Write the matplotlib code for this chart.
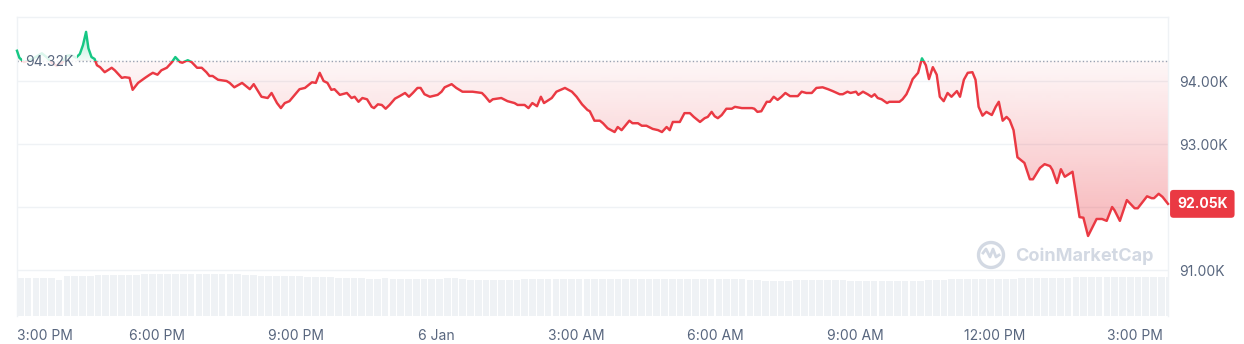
import numpy as np
import matplotlib
matplotlib.use("Agg")
import matplotlib.pyplot as plt
from matplotlib.path import Path
from matplotlib.patches import Rectangle, Circle
from matplotlib.lines import Line2D
from matplotlib.transforms import IdentityTransform
from matplotlib.colors import to_rgb

plt.rcParams['font.family'] = ['Inter', 'DejaVu Sans']

# minutes after 3:00 PM (5 Jan) and BTC price in USD
minutes = [0, 3, 9, 16, 24, 32, 38, 45, 51, 58, 64, 70, 76, 81, 85, 89, 92, 96, 100, 103,
           107, 113, 122, 126, 135, 139, 145, 149, 156, 165, 171, 175, 181, 186, 193, 199, 204, 210, 213, 220,
           225, 232, 238, 244, 248, 252, 259, 270, 274, 280, 290, 300, 305, 315, 323, 328, 335, 340, 345, 351,
           364, 371, 380, 385, 390, 395, 400, 405, 409, 416, 425, 431, 435, 440, 445, 451, 457, 460, 465, 470,
           475, 480, 487, 493, 500, 505, 510, 516, 520, 525, 532, 542, 547, 551, 560, 566, 574, 587, 599, 603,
           609, 613, 624, 632, 641, 645, 654, 659, 664, 670, 675, 679, 689, 695, 706, 715, 721, 728, 735, 738,
           744, 751, 755, 761, 770, 774, 779, 789, 793, 800, 805, 811, 819, 826, 831, 837, 841, 845, 854, 860,
           867, 872, 880, 886, 890, 895, 899, 903, 908, 914, 921, 925, 934, 947, 950, 954, 959, 966, 970, 975,
           980, 985, 990, 996, 1006, 1011, 1017, 1024, 1030, 1038, 1045, 1051, 1060, 1064, 1070, 1074, 1081, 1084, 1090, 1096,
           1101, 1105, 1109, 1114, 1121, 1124, 1131, 1137, 1141, 1146, 1150, 1154, 1161, 1166, 1171, 1175, 1180, 1185, 1189, 1194,
           1199, 1204, 1211, 1215, 1220, 1225, 1231, 1235, 1239, 1244, 1249, 1256, 1261, 1265, 1270, 1275, 1279, 1284, 1289, 1298,
           1305, 1309, 1318, 1324, 1331, 1334, 1340, 1345, 1350, 1360, 1369, 1374, 1380, 1391, 1398, 1404, 1411, 1414, 1421, 1430,
           1440, 1444, 1456, 1462, 1465, 1471, 1476, 1483]
price = [94480, 94370, 94300, 94330, 94380, 94440, 94380, 94290, 94240, 94290, 94400, 94410, 94370, 94430, 94570, 94780, 94520, 94380, 94350, 94250,
         94220, 94140, 94210, 94170, 94050, 94060, 94050, 93860, 93970, 94050, 94100, 94130, 94100, 94170, 94210, 94290, 94380, 94300, 94290, 94330,
         94300, 94210, 94210, 94140, 94080, 94080, 94020, 94000, 93970, 93900, 93970, 93870, 93950, 93750, 93730, 93810, 93650, 93570, 93650, 93680,
         93870, 93890, 93980, 93970, 94130, 94000, 93970, 93860, 93870, 93780, 93810, 93730, 93750, 93670, 93730, 93710, 93590, 93570, 93630, 93620,
         93560, 93620, 93720, 93760, 93810, 93750, 93810, 93890, 93890, 93790, 93750, 93780, 93830, 93900, 93950, 93890, 93830, 93830, 93810, 93760,
         93670, 93710, 93730, 93680, 93650, 93620, 93620, 93570, 93650, 93600, 93750, 93650, 93730, 93830, 93890, 93830, 93750, 93630, 93540, 93520,
         93370, 93370, 93330, 93250, 93190, 93270, 93220, 93370, 93330, 93330, 93290, 93290, 93240, 93220, 93190, 93270, 93220, 93350, 93350, 93490,
         93490, 93430, 93350, 93410, 93430, 93510, 93440, 93410, 93460, 93560, 93560, 93590, 93570, 93570, 93560, 93510, 93520, 93670, 93670, 93750,
         93700, 93750, 93810, 93760, 93760, 93830, 93810, 93810, 93890, 93900, 93870, 93840, 93790, 93790, 93830, 93810, 93830, 93780, 93830, 93790,
         93750, 93790, 93730, 93710, 93650, 93670, 93670, 93670, 93710, 93790, 93900, 94030, 94130, 94360, 94250, 94030, 94220, 94100, 93750, 93680,
         93810, 93750, 93840, 93750, 94020, 94130, 94140, 94020, 93590, 93450, 93510, 93460, 93590, 93670, 93370, 93430, 93380, 93220, 92790, 92700,
         92440, 92440, 92620, 92680, 92650, 92590, 92380, 92600, 92480, 92560, 91840, 91830, 91540, 91810, 91810, 91780, 92000, 91950, 91780, 92110,
         91980, 91980, 92170, 92140, 92140, 92210, 92160, 92050]

# 24h volume (USD bn), one bar every 10 minutes
vol_minutes = list(range(0, 1490, 10))
volume = [38.2, 38.0, 38.1, 37.9, 38.0, 36.3, 39.6, 40.0, 40.2, 40.4,
          41.0, 40.8, 41.2, 41.0, 41.3, 41.5,
          41.8, 42.0, 42.1, 41.9, 42.0, 42.2, 42.0, 41.8, 41.9, 42.3, 42.4, 42.2, 41.6, 41.2,
          40.6, 40.5, 40.3, 40.0, 40.2, 39.9, 39.6, 39.4, 39.5, 39.0, 38.6, 38.5, 38.3, 38.0,
          37.6, 37.5, 37.4, 37.6, 37.3, 37.5, 37.2, 37.4, 37.3, 37.0, 37.2, 38.0, 37.9, 37.4,
          36.2, 36.0, 36.1, 35.9, 36.0, 36.2, 36.4, 36.6,
          36.8, 36.7, 36.6, 36.8, 36.7, 36.9, 36.6, 36.7, 36.8, 36.7, 36.6, 36.7, 36.8, 36.9, 36.7,
          36.6, 36.7, 36.8, 36.6, 36.7, 36.8, 36.7, 36.6, 36.7, 36.9, 36.8, 36.7, 36.6, 36.5, 36.4,
          35.4, 35.2, 35.3, 35.4, 35.9, 36.0, 36.1, 36.0, 35.9, 36.0, 35.8,
          35.3, 35.2, 35.3, 35.4, 35.3, 35.2, 35.3, 35.4, 35.5, 35.3, 35.6, 35.9,
          36.5, 36.7, 36.8, 36.6, 36.7, 36.9, 36.8, 36.9, 37.1,
          37.5, 37.7, 37.8, 37.6, 37.7, 37.9, 38.1, 38.4,
          39.0, 39.2, 39.3, 39.4, 39.3, 39.2, 39.3, 39.4, 39.3, 39.2, 39.3, 39.4, 39.3]

open_price = 94320
last_price = 92050
yticks = [91000, 92000, 93000, 94000]
ytick_labels = ["91.00K", "", "93.00K", "94.00K"]   # 92.00K sits under the price tag
xticks = [0, 180, 360, 540, 720, 900, 1080, 1260, 1440]
xtick_labels = ["3:00 PM", "6:00 PM", "9:00 PM", "6 Jan", "3:00 AM", "6:00 AM",
                "9:00 AM", "12:00 PM", "3:00 PM"]

RED = "#ea3943"
GREEN = "#16c784"
GRID = "#eff2f5"
LABEL = "#58667e"

W, H = 1244, 344
fig = plt.figure(figsize=(W / 100, H / 100), dpi=100)
pos = [17 / W, 28 / H, 1151 / W, 299 / H]
xmin, xmax = 0, 1483
ymin, ymax = 90270, 95016

# volume bars, behind everything
axv = fig.add_axes(pos)
axv.bar(vol_minutes, volume, width=8.6, align="edge", color="#eff2f5", linewidth=0)
axv.set_xlim(xmin, xmax)
axv.set_ylim(0, 299)
axv.axis("off")

ax = fig.add_axes(pos)
ax.set_facecolor("none")
ax.set_xlim(xmin, xmax)
ax.set_ylim(ymin, ymax)

# gradient fill between price and the open price
fill = ax.fill_between(minutes, price, open_price, color="none")
clip = Path.make_compound_path(*fill.get_paths())
fill.remove()

n = 256
lowest = min(price)
yy = np.linspace(ymin, open_price, n)
a = np.clip(0.04 + 0.33 * (open_price - yy) / (open_price - lowest), 0, 0.45)
img = np.zeros((n, 1, 4))
img[:, 0, :3] = to_rgb(RED)
img[:, 0, 3] = a
im = ax.imshow(img, extent=[xmin, xmax, ymin, open_price], origin="lower",
               aspect="auto", interpolation="bilinear", zorder=1)
im.set_clip_path(clip, transform=ax.transData)

highest = max(price)
yy = np.linspace(open_price, ymax, n)
a = np.clip(0.05 + 0.3 * (yy - open_price) / (highest - open_price), 0, 0.4)
img = np.zeros((n, 1, 4))
img[:, 0, :3] = to_rgb(GREEN)
img[:, 0, 3] = a
im = ax.imshow(img, extent=[xmin, xmax, open_price, ymax], origin="lower",
               aspect="auto", interpolation="bilinear", zorder=1)
im.set_clip_path(clip, transform=ax.transData)
ax.set_xlim(xmin, xmax)
ax.set_ylim(ymin, ymax)

# dotted open price line
ax.axhline(open_price, color="#9aa3b3", lw=1, linestyle=(0, (1, 1.6)), zorder=2)

# price line, red under the open price, green above
for color, lo, hi in [(RED, ymin - 1000, open_price), (GREEN, open_price, ymax + 1000)]:
    ln, = ax.plot(minutes, price, color=color, lw=1.75, solid_joinstyle="round", zorder=3)
    ln.set_clip_path(Rectangle((xmin - 50, lo), xmax - xmin + 100, hi - lo, transform=ax.transData))

ax.set_yticks(yticks)
ax.set_yticklabels(ytick_labels)
ax.set_xticks(xticks)
ax.set_xticklabels(xtick_labels)
ax.get_xticklabels()[0].set_ha("left")
ax.yaxis.tick_right()
ax.grid(axis="y", color=GRID, lw=1, zorder=0)
ax.set_axisbelow(True)
ax.tick_params(axis="y", length=0, pad=8, labelsize=10, labelcolor=LABEL)
ax.tick_params(axis="x", length=0, pad=9, labelsize=10, labelcolor=LABEL)
for s in ["top", "left", "right"]:
    ax.spines[s].set_color(GRID)
    ax.spines[s].set_linewidth(1)
ax.spines["bottom"].set_visible(False)

# labels
ax.annotate("94.32K", xy=(0, open_price), xycoords=("axes fraction", "data"),
            xytext=(8, -1), textcoords="offset pixels", ha="left", va="center",
            fontsize=10, color=LABEL, zorder=5,
            bbox=dict(boxstyle="square,pad=0.25", fc="white", ec="none", alpha=0.85))
ax.annotate("92.05K", xy=(1, last_price), xycoords=("axes fraction", "data"),
            xytext=(9, 0), textcoords="offset pixels", ha="left", va="center",
            fontsize=10, color="white", weight="bold", annotation_clip=False, zorder=6,
            bbox=dict(boxstyle="round,pad=0.5,rounding_size=0.25", fc=RED, ec="none"))

# watermark
WM = "#d3d9e3"
fig.add_artist(Circle((991, H - 255), 12.5, transform=IdentityTransform(),
                      fill=False, ec=WM, lw=2.4))
fig.add_artist(Line2D([983, 986, 990, 993, 996, 999], [H - 253, H - 249, H - 257, H - 249, H - 257, H - 255],
                      transform=IdentityTransform(), color=WM, lw=2, solid_joinstyle="round"))
fig.text(1015 / W, 1 - 256 / H, "CoinMarketCap", color=WM, fontsize=13,
         weight="bold", ha="left", va="center")

fig.savefig("out.png", dpi=100)
